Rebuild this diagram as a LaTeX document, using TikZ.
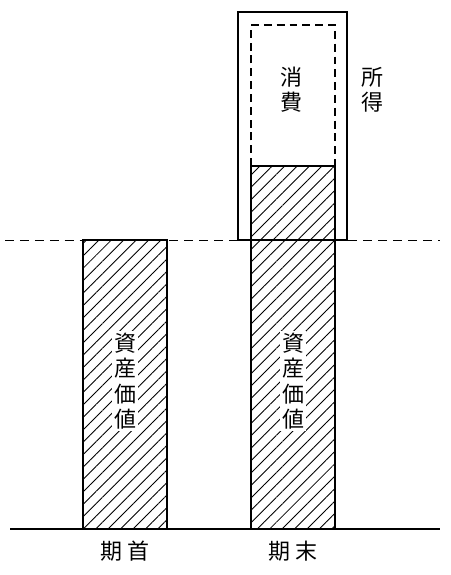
\documentclass[tikz,border=0pt]{standalone}
\usepackage{fontspec}
\setmainfont{Noto Sans CJK JP}
\usetikzlibrary{patterns.meta}

\begin{document}
\begin{tikzpicture}[
    x=0.02cm, y=-0.02cm,
    hatch/.style={draw, line width=0.9pt, pattern={Lines[angle=45, distance=5pt, line width=0.5pt]}},
    guide/.style={line width=0.5pt, dash pattern=on 5pt off 3.5pt},
    spend/.style={line width=1.2pt, dash pattern=on 4.5pt off 2.8pt},
    vtext/.style={font=\fontsize{12.5}{14.4}\selectfont, align=center, inner sep=1pt},
  ]
  \useasboundingbox (0,0) rectangle (450,575);
  % base line and level line
  \coordinate (base l) at (10,529);
  \coordinate (base r) at (440,529);
  \coordinate (level l) at (5,240);
  \coordinate (level r) at (440,240);
  \draw[line width=0.9pt] (base l) -- (base r);
  \draw[guide] (level l) -- (level r);
  % start of period
  \draw[hatch] (83,240) rectangle (167,529);
  % end of period
  \draw[line width=0.9pt] (238,12) rectangle (347,240);
  \draw[spend] (251,166) -- (251,25) -- (335,25) -- (335,166);
  \draw[hatch] (251,166) rectangle (335,529);
  % labels
  \node[vtext, fill=white] (asset0) at (125,381) {資\\産\\価\\値};
  \node[vtext, fill=white] (asset1) at (293,381) {資\\産\\価\\値};
  \node[vtext] (spend) at (291,90) {消\\費};
  \node[vtext] (income) at (372,90) {所\\得};
  \node[vtext] (start) at (125,551) {期\hspace{3pt}首};
  \node[vtext] (end) at (293,551) {期\hspace{3pt}末};
\end{tikzpicture}
\end{document}
